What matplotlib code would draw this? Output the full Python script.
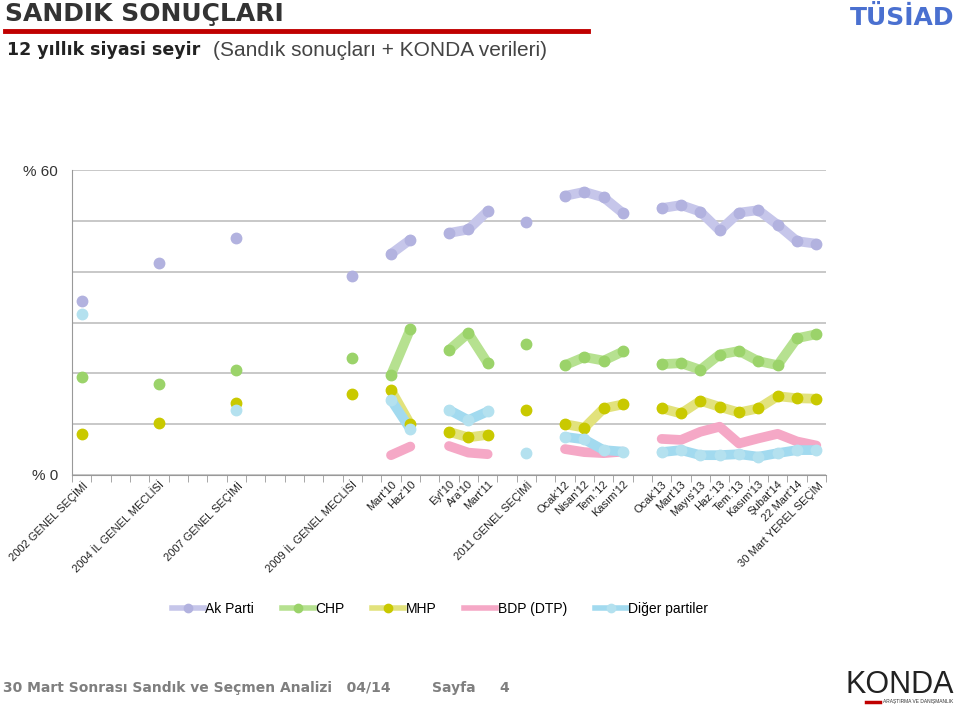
import numpy as np
import matplotlib
matplotlib.use('Agg')
from matplotlib import pyplot as plt
from matplotlib.lines import Line2D

plt.rcParams['font.family'] = ['Liberation Sans', 'DejaVu Sans']

nan = np.nan

# 39 category slots, labels only on the surveyed / election points
labels = [""] * 39
label_pos = [0, 4, 8, 14, 16, 17, 19, 20, 21, 23, 25, 26, 27, 28,
             30, 31, 32, 33, 34, 35, 36, 37, 38]
label_txt = ["2002 GENEL SEÇİMİ", "2004 İL GENEL MECLİSİ", "2007 GENEL SEÇİMİ",
             "2009 İL GENEL MECLİSİ", "Mart'10", "Haz'10", "Eyl'10", "Ara'10",
             "Mart'11", "2011 GENEL SEÇİMİ", "Ocak'12", "Nisan'12", "Tem.'12",
             "Kasım'12", "Ocak'13", "Mart'13", "Mayıs'13", "Haz.'13", "Tem.'13",
             "Kasım'13", "Şubat'14", "22 Mart'14", "30 Mart YEREL SEÇİM"]
for p, t in zip(label_pos, label_txt):
    labels[p] = t

ak = [34.3, 41.7, 46.6, 39.1, 43.5, 46.3, 47.6, 48.3, 51.9, 49.8, 54.9, 55.7, 54.6,
      51.5, 52.5, 53.1, 51.8, 48.1, 51.6, 52.1, 49.2, 46.0, 45.5]
chp = [19.3, 18.0, 20.7, 23.0, 19.7, 28.7, 24.6, 27.9, 22.0, 25.8, 21.6, 23.2, 22.5,
       24.3, 21.8, 22.0, 20.7, 23.7, 24.4, 22.4, 21.6, 26.9, 27.7]
mhp = [8.1, 10.2, 14.1, 15.9, 16.7, 10.0, 8.5, 7.4, 7.9, 12.8, 10.0, 9.3, 13.1,
       13.9, 13.1, 12.1, 14.6, 13.4, 12.3, 13.1, 15.5, 15.1, 15.0]
bdp = [nan, nan, nan, nan, 3.9, 5.6, 5.7, 4.4, 4.1, nan, 5.1, 4.5, 4.3,
       4.6, 7.1, 6.9, 8.5, 9.5, 6.2, 7.2, 8.1, 6.6, 5.8]
diger = [31.7, nan, 12.7, nan, 14.8, 9.0, 12.8, 10.8, 12.5, 4.3, 7.5, 7.0, 4.9,
         4.6, 4.5, 4.9, 3.9, 3.9, 4.1, 3.6, 4.3, 4.9, 4.9]

series = [
    ("Ak Parti", ak, "#C6C6EA", "#B2B2DF"),
    ("CHP", chp, "#B6E190", "#9BD36A"),
    ("MHP", mhp, "#E2E27C", "#C9C900"),
    ("BDP (DTP)", bdp, "#F5A8C6", None),
    ("Diğer partiler", diger, "#A2DAEF", "#B4E1EF"),
]


def spread(vals):
    full = np.full(39, np.nan)
    full[label_pos] = vals
    return full


fig = plt.figure(figsize=(9.59, 7.10), dpi=100)
ax = fig.add_axes([72 / 959, 1 - 475 / 710, (826 - 72) / 959, (475 - 170) / 710])

x = np.arange(39)
for name, vals, lc, mc in series:
    y = spread(vals)
    ax.plot(x, y, color=lc, linewidth=7, solid_capstyle='round', zorder=2)
    if mc:
        ax.plot(x, y, linestyle='none', marker='o', markersize=7.5,
                color=mc, zorder=3)

ax.set_xlim(-0.5, 38.5)
ax.set_ylim(0, 60)
ax.set_yticks(np.arange(0, 61, 10))
ax.set_yticklabels(["% 0", "", "", "", "", "", "% 60"], fontsize=11, color="#333333")
ax.tick_params(axis='y', length=0, pad=10)
ax.yaxis.grid(True, color="#BFBFBF", linewidth=1.2)
ax.set_axisbelow(True)

ax.set_xticks(x)
ax.set_xticklabels(labels, rotation=45, ha='right', rotation_mode='anchor',
                   fontsize=8, color="#222222")
ax.tick_params(axis='x', length=0, pad=3)
ax.set_xticks(np.arange(-0.5, 39, 1), minor=True)
ax.tick_params(axis='x', which='minor', length=5, color="#999999")

for s in ['top', 'right']:
    ax.spines[s].set_visible(False)
for s in ['left', 'bottom']:
    ax.spines[s].set_color("#999999")

handles = []
for name, vals, lc, mc in series:
    handles.append(Line2D([], [], color=lc, linewidth=4, marker='o' if mc else None,
                          markersize=6, markerfacecolor=mc, markeredgecolor=mc))
fig.legend(handles, [s[0] for s in series], loc='center',
           bbox_to_anchor=(440 / 959, 1 - 609 / 710), ncol=5, frameon=False,
           fontsize=10, handlelength=2.3, handletextpad=0.1, columnspacing=2.0)

# header
fig.text(5 / 959, 1 - 14 / 710, "SANDIK SONUÇLARI", fontsize=18, fontweight='bold',
         color="#333333", va='center', ha='left', family='DejaVu Sans')
fig.add_artist(Line2D([5 / 959, 588 / 959], [1 - 31 / 710, 1 - 31 / 710],
                      color="#C00000", linewidth=3.5))
fig.text(7 / 959, 1 - 50 / 710, "12 yıllık siyasi seyir", fontsize=12.5,
         fontweight='bold', color="#222222", va='center', ha='left', family='DejaVu Sans')
fig.text(213 / 959, 1 - 50 / 710, "(Sandık sonuçları + KONDA verileri)",
         fontsize=15, color="#444444", va='center', ha='left')
fig.text(902 / 959, 1 - 18 / 710, "TÜSİAD", fontsize=18, fontweight='heavy',
         color="#4A70D0", va='center', ha='center', family='DejaVu Sans')

# footer
fig.text(3 / 959, 1 - 688 / 710, "30 Mart Sonrası Sandık ve Seçmen Analizi   04/14",
         fontsize=10, fontweight='bold', color="#7F7F7F", va='center', ha='left',
         family='DejaVu Sans')
fig.text(432 / 959, 1 - 688 / 710, "Sayfa     4", fontsize=10, fontweight='bold',
         color="#7F7F7F", va='center', ha='left', family='DejaVu Sans')
fig.text(900 / 959, 1 - 685 / 710, "KONDA", fontsize=22, color="#222222",
         va='center', ha='center')
fig.add_artist(Line2D([866 / 959, 880 / 959], [1 - 702 / 710, 1 - 702 / 710],
                      color="#C00000", linewidth=2.5))
fig.text(883 / 959, 1 - 702 / 710, "ARAŞTIRMA VE DANIŞMANLIK", fontsize=3.5,
         color="#333333", va='center', ha='left')

fig.savefig("out.png", dpi=100)
